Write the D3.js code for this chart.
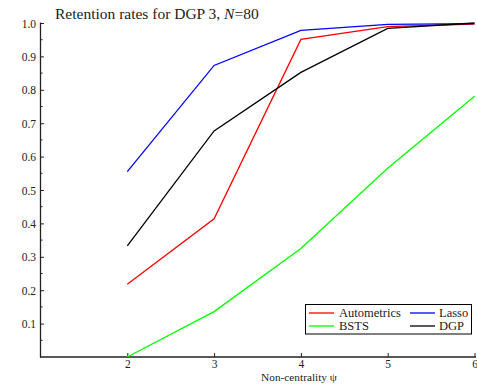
<!DOCTYPE html>
<html>
<head>
<meta charset="utf-8">
<script src="https://cdn.jsdelivr.net/npm/d3@7"></script>
<style>
  html, body { margin: 0; padding: 0; background: #fff; }
  svg { display: block; }
  svg text { font-family: "Liberation Serif", "Times New Roman", serif; }
</style>
</head>
<body>
<svg id="chart" width="477" height="387"></svg>
<script>
// Non-centrality values on the x axis
const psi = [2, 3, 4, 5, 6];

// Retention rates per method
const autometrics = [0.218, 0.414, 0.951, 0.989, 0.997];
const lasso       = [0.555, 0.873, 0.978, 0.996, 0.998];
const bsts        = [0.000, 0.136, 0.325, 0.565, 0.781];
const dgp         = [0.333, 0.677, 0.852, 0.984, 1.000];

const seriesNames  = ["Autometrics", "Lasso", "BSTS", "DGP"];
const seriesColors = ["#ff0000", "#0000ff", "#00ff00", "#000000"];

const xTicks = [2, 3, 4, 5, 6];
const yTicks = [0.1, 0.2, 0.3, 0.4, 0.5, 0.6, 0.7, 0.8, 0.9, 1.0];
const yMinorTicks = [0.05, 0.15, 0.25, 0.35, 0.45, 0.55, 0.65, 0.75, 0.85, 0.95];

const titleText = "Retention rates for DGP 3, ";
const xLabel = "Non-centrality \u03c8";

const serif = "Liberation Serif";
const svg = d3.select("#chart");
const ink = "#222";

const x = d3.scaleLinear().domain([1, 6]).range([40.5, 474.5]);
const y = d3.scaleLinear().domain([0, 1]).range([357, 23]);

// Y axis: ticks point into the plot
const yAxis = d3.axisRight(y).tickValues(yTicks).tickSize(3.5).tickFormat(d3.format(".1f"));
const gy = svg.append("g").attr("transform", `translate(${x(1)},0)`).call(yAxis)
  .attr("font-family", serif).attr("font-size", 11.5);
gy.select(".domain").remove();
gy.selectAll(".tick line").attr("stroke", ink).attr("stroke-width", 1);
gy.selectAll(".tick text")
  .attr("x", -4.5).attr("dy", "0.36em").attr("text-anchor", "end")
  .attr("fill", ink);
svg.append("g").selectAll("line").data(yMinorTicks).join("line")
  .attr("x1", x(1)).attr("x2", x(1) + 2)
  .attr("y1", d => y(d)).attr("y2", d => y(d))
  .attr("stroke", ink).attr("stroke-width", 1);
svg.append("line")
  .attr("x1", x(1)).attr("x2", x(1))
  .attr("y1", y(1) - 0.5).attr("y2", y(0) + 0.5)
  .attr("stroke", ink).attr("stroke-width", 1.3);

// X axis: ticks point into the plot
const xAxis = d3.axisTop(x).tickValues(xTicks).tickSize(4).tickFormat(d3.format("d"));
const gx = svg.append("g").attr("transform", `translate(0,${y(0)})`).call(xAxis)
  .attr("font-family", serif).attr("font-size", 11.5);
gx.select(".domain").remove();
gx.selectAll(".tick line").attr("stroke", ink).attr("stroke-width", 1);
gx.selectAll(".tick text")
  .attr("y", 11).attr("dy", 0)
  .attr("fill", ink);
svg.append("line")
  .attr("x1", x(1) - 0.5).attr("x2", 476)
  .attr("y1", y(0)).attr("y2", y(0))
  .attr("stroke", ink).attr("stroke-width", 1.3);

// Series lines
const allSeries = [autometrics, lasso, bsts, dgp];
const line = d3.line().x((d, i) => x(psi[i])).y(d => y(d));
const drawOrder = [2, 0, 1, 3];
drawOrder.forEach(k => {
  svg.append("path")
    .datum(allSeries[k])
    .attr("d", line)
    .attr("fill", "none")
    .attr("stroke", seriesColors[k])
    .attr("stroke-width", 1.3)
    .attr("stroke-linejoin", "miter");
});

// Title
const title = svg.append("text")
  .attr("x", 55).attr("y", 18.5)
  .attr("fill", ink).attr("font-family", serif).attr("font-size", 15.5);
title.append("tspan").text(titleText);
title.append("tspan").attr("font-style", "italic").text("N");
title.append("tspan").text("=80");

// X axis label
svg.append("text")
  .attr("x", 299).attr("y", 381)
  .attr("text-anchor", "middle")
  .attr("fill", ink).attr("font-family", serif).attr("font-size", 11.3)
  .text(xLabel);

// Legend
const legend = svg.append("g");
legend.append("rect")
  .attr("x", 305.5).attr("y", 304.5).attr("width", 166).attr("height", 29.5)
  .attr("fill", "#fff").attr("stroke", "#000").attr("stroke-width", 1);
const legendPos = [
  { lx: 309, tx: 339, cy: 313 },
  { lx: 410, tx: 439, cy: 313 },
  { lx: 309, tx: 339, cy: 326 },
  { lx: 410, tx: 439, cy: 326 }
];
seriesNames.forEach((name, k) => {
  const p = legendPos[k];
  legend.append("line")
    .attr("x1", p.lx).attr("x2", p.lx + 25)
    .attr("y1", p.cy).attr("y2", p.cy)
    .attr("stroke", seriesColors[k]).attr("stroke-width", 1.3);
  legend.append("text")
    .attr("x", p.tx).attr("y", p.cy + 3.5)
    .attr("fill", ink).attr("font-family", serif).attr("font-size", 12.5)
    .text(name);
});
</script>
</body>
</html>
